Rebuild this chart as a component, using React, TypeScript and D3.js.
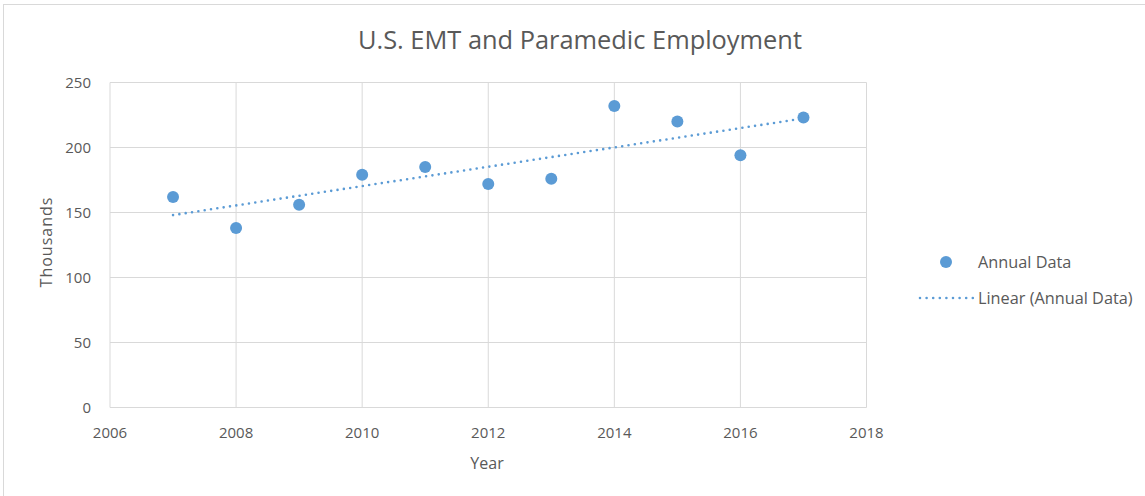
import React from "react";
import * as d3 from "d3";

const years = [2007, 2008, 2009, 2010, 2011, 2012, 2013, 2014, 2015, 2016, 2017];
const employment = [162, 138, 156, 179, 185, 172, 176, 232, 220, 194, 223];
const xTicks = [2006, 2008, 2010, 2012, 2014, 2016, 2018];
const yTicks = [0, 50, 100, 150, 200, 250];
const title = "U.S. EMT and Paramedic Employment";
const xLabel = "Year";
const yLabel = "Thousands";
const legendLabels = ["Annual Data", "Linear (Annual Data)"];

const W = 1145;
const H = 496;
const plot = { left: 110, right: 866.5, top: 82.5, bottom: 407.5 };
const COLOR = "#5B9BD5";
const TEXT = "#595959";
const GRID = "#d9d9d9";
const FONT = "'Open Sans', sans-serif";

export default function App() {
  const x = d3.scaleLinear().domain([2006, 2018]).range([plot.left, plot.right]);
  const y = d3.scaleLinear().domain([0, 250]).range([plot.bottom, plot.top]);

  // linear least-squares trendline
  const mx = d3.mean(years)!;
  const my = d3.mean(employment)!;
  const num = d3.sum(years.map((yr, i) => (yr - mx) * (employment[i] - my)));
  const den = d3.sum(years.map((yr) => (yr - mx) ** 2));
  const slope = num / den;
  const intercept = my - slope * mx;
  const x0 = years[0];
  const x1 = years[years.length - 1];
  const trend = d3.line<number>().x((d) => x(d)).y((d) => y(slope * d + intercept));

  return (
    <svg
      width={W}
      height={H}
      style={{ position: "absolute", left: 0, top: 0, background: "#fff" }}
      fontFamily={FONT}
    >
      <rect x={3.5} y={4.5} width={1160} height={510} fill="#fff" stroke={GRID} strokeWidth={1} />
      <text x={580} y={49} textAnchor="middle" fontSize={25.4} fill={TEXT}>
        {title}
      </text>
      {/* grid */}
      {yTicks.map((t) => (
        <line key={"gy" + t} x1={plot.left} x2={plot.right} y1={y(t)} y2={y(t)} stroke={GRID} strokeWidth={1} />
      ))}
      {xTicks.map((t) => (
        <line key={"gx" + t} x1={x(t)} x2={x(t)} y1={plot.top} y2={plot.bottom} stroke={GRID} strokeWidth={1} />
      ))}
      {/* tick labels */}
      {yTicks.map((t) => (
        <text key={"ly" + t} x={91} y={y(t)} dy="0.36em" textAnchor="end" fontSize={15} fill={TEXT}>
          {t}
        </text>
      ))}
      {xTicks.map((t) => (
        <text key={"lx" + t} x={x(t)} y={438} textAnchor="middle" fontSize={15} fill={TEXT}>
          {t}
        </text>
      ))}
      <text x={487} y={469} textAnchor="middle" fontSize={16} fill={TEXT}>
        {xLabel}
      </text>
      <text
        transform={`translate(52,${242}) rotate(-90)`}
        textAnchor="middle"
        fontSize={16}
        fill={TEXT}
        letterSpacing={1}
      >
        {yLabel}
      </text>
      {/* trendline */}
      <path
        d={trend([x0, x1]) || ""}
        fill="none"
        stroke={COLOR}
        strokeWidth={2.6}
        strokeLinecap="round"
        strokeDasharray="0 6.4"
      />
      {/* points */}
      {years.map((yr, i) => (
        <circle key={yr} cx={x(yr)} cy={y(employment[i])} r={6} fill={COLOR} />
      ))}
      {/* legend */}
      <circle cx={946} cy={262} r={6} fill={COLOR} />
      <text x={978} y={262} dy="0.36em" fontSize={16.3} fill={TEXT}>
        {legendLabels[0]}
      </text>
      <line x1={920} x2={973} y1={298} y2={298} stroke={COLOR} strokeWidth={2.6} strokeLinecap="round" strokeDasharray="0 6.6" />
      <text x={978} y={298} dy="0.36em" fontSize={16.3} fill={TEXT}>
        {legendLabels[1]}
      </text>
    </svg>
  );
}
